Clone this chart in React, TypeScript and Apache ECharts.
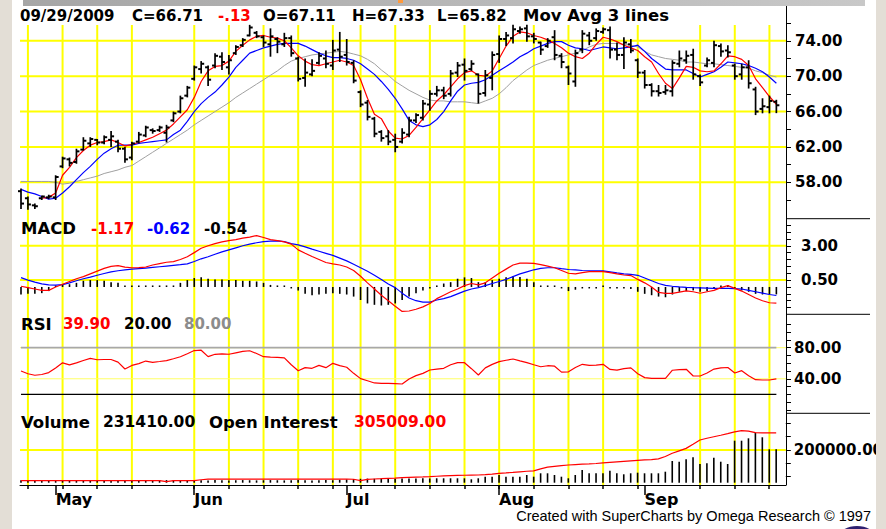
import React, { useEffect, useRef } from "react";
import * as echarts from "echarts";

// ---------- data (bar index 0 = 2009-04-24 ... 109 = 2009-09-29) ----------
const weekIdx = [1, 6, 11, 16, 25, 30, 35, 40, 45, 49, 54, 59, 64, 69, 74, 79, 84, 89, 98, 103, 108];
const monthIdx = [5, 25, 47, 69, 90];
const monthNames = ["May", "Jun", "Jul", "Aug", "Sep"];

const open = [57.0,56.2,55.4,56.2,56.3,56.3,59.8,60.6,60.3,61.7, 62.4,62.8,62.5,62.8,62.6,61.8,60.8,62.6,63.3,63.9, 63.9,63.6,65.0,66.0,67.8,69.7,70.8,71.0,71.2,72.2, 71.0,72.6,73.5,74.6,74.9,74.4,73.6,74.2,73.6,74.3, 72.0,69.8,70.2,71.5,72.0,71.2,73.0,72.4,71.5,68.2, 67.0,65.2,63.7,63.2,62.8,62.6,63.4,65.0,65.3,66.8, 68.0,68.4,68.0,70.4,71.3,70.8,70.2,68.1,69.8,72.5, 74.2,74.3,75.1,75.4,74.5,73.8,73.4,74.4,72.3,71.0, 69.4,73.0,74.6,74.3,75.0,75.2,73.0,72.4,73.6,71.8, 70.4,69.0,68.3,68.2,68.3,71.4,71.8,72.4,70.0,71.2, 71.5,73.4,72.9,71.2,70.2,71.0,68.5,66.3,66.5,67.11];
const high = [57.3,56.4,55.6,56.5,56.6,58.8,60.9,60.8,61.8,63.1, 63.1,62.9,63.3,63.8,62.8,62.0,62.6,63.7,64.4,64.1, 64.4,64.5,66.0,67.8,68.9,71.2,71.7,71.2,72.6,72.7, 72.4,73.5,74.3,75.8,75.1,74.6,75.4,74.4,74.9,74.6, 72.2,72.0,71.9,72.7,72.9,74.1,75.0,74.2,71.8,68.4, 67.3,65.4,63.9,63.9,63.5,64.1,65.4,65.8,67.3,68.4, 68.9,68.8,70.7,71.6,72.0,71.8,70.3,70.7,72.8,74.6, 75.0,75.8,75.6,75.8,74.9,73.9,74.3,75.2,72.6,71.2, 73.0,75.2,75.0,75.4,75.5,75.6,73.8,74.4,74.2,72.0, 70.7,69.2,69.0,69.0,71.8,72.9,72.9,73.1,70.2,72.1, 74.0,73.7,73.5,71.4,71.4,71.8,68.8,67.5,67.8,67.33];
const low = [55.0,54.9,55.0,56.0,56.1,56.0,59.6,59.8,60.1,61.6, 62.0,62.2,62.3,62.0,61.4,60.2,60.5,62.4,63.1,63.5, 63.7,62.5,64.8,65.8,67.6,69.5,70.3,68.9,70.9,70.7, 70.2,72.4,73.3,74.5,74.3,73.3,72.2,72.6,73.3,72.2, 69.4,68.8,70.0,71.3,70.9,70.7,71.6,71.2,69.2,66.5, 65.0,63.1,62.6,62.2,61.4,62.4,63.1,64.7,65.0,66.1, 67.7,67.4,67.7,69.9,69.5,70.6,66.9,67.7,68.4,71.5, 73.4,73.7,74.8,73.9,73.7,72.4,73.2,71.8,70.9,69.0, 68.8,72.6,73.5,74.0,74.8,72.0,71.8,70.8,72.6,69.8, 68.6,67.7,67.7,67.9,67.7,71.0,71.4,69.6,68.9,71.0, 71.0,72.2,72.1,69.6,69.6,68.6,65.6,65.8,65.8,65.82];
const close = [55.6,55.5,55.3,56.4,56.4,58.6,60.7,60.2,61.5,62.7, 62.9,62.5,63.1,63.2,61.8,60.6,62.4,63.4,64.2,63.8, 64.2,64.2,65.8,67.5,68.7,71.0,71.4,69.6,72.3,71.6, 71.8,73.3,74.1,75.5,74.5,73.8,74.5,73.9,74.3,72.6, 69.7,70.4,70.6,72.3,71.4,72.9,72.2,71.6,69.5,66.8, 65.4,63.5,63.0,62.6,62.0,63.6,65.0,65.6,66.9,68.0, 68.4,67.8,70.3,71.2,70.6,71.4,68.0,70.1,72.4,74.2, 74.6,75.3,75.3,74.5,74.2,73.0,74.0,72.4,71.6,70.3, 72.6,74.8,74.0,75.1,75.3,73.0,72.4,73.8,72.9,70.4, 69.0,68.3,68.1,68.4,71.5,72.0,72.3,70.2,69.3,71.8, 73.5,72.8,72.7,70.0,71.0,69.2,66.0,66.6,67.2,66.71];

const maFast = [null,null,null,56.2,56.3,56.8,58.8,59.7,60.8,61.6, 62.2,62.5,62.6,62.8,62.5,62.1,62.3,62.5,62.8,63.1, 63.5,63.9,64.6,65.4,66.2,67.6,69.4,70.6,71.1,71.2, 71.7,72.8,73.5,74.1,74.5,74.6,74.4,74.3,74.0,73.2, 72.3,71.7,71.3,71.2,71.4,71.6,71.8,71.6,71.2,69.6, 67.5,65.7,65.2,63.8,63.0,62.9,63.3,64.2,65.2,66.2, 67.2,67.9,68.8,69.7,70.4,70.6,70.1,70.0,70.6,72.0, 73.4,74.5,75.0,74.9,74.6,74.4,74.1,73.7,73.2,72.6, 72.2,72.0,72.6,73.6,74.4,74.2,73.9,73.5,73.2,72.9, 72.2,71.6,70.3,69.2,68.6,69.8,71.1,71.0,70.6,70.5, 70.6,71.4,72.3,72.2,71.9,71.2,69.7,68.7,67.7,66.8];
const maMid = [57.2,56.9,56.7,56.4,56.1,56.2,56.8,57.5,58.3,59.1, 59.8,60.6,61.3,61.8,62.2,62.2,62.2,62.4,62.5,62.6, 62.7,62.8,63.4,63.9,64.9,66.0,66.9,67.6,68.2,69.0, 69.9,71.0,71.8,72.6,72.9,73.2,73.4,73.6,73.7,73.7, 73.7,73.4,73.0,72.6,72.3,72.1,72.1,72.0,71.8,71.4, 70.8,70.2,69.4,68.5,67.5,66.3,65.0,64.5,64.3,64.5, 65.1,66.0,67.2,68.3,69.0,69.2,69.3,69.6,70.1,70.6, 71.1,71.6,72.2,72.6,73.1,73.4,73.7,73.9,73.9,73.5, 73.2,73.1,72.9,73.1,73.3,73.2,73.1,73.2,73.3,73.5, 72.8,72.0,71.4,70.8,70.7,70.7,70.7,70.3,69.9,70.2, 70.5,71.0,71.6,71.5,71.4,71.2,70.9,70.5,69.9,69.2];
const maSlow = [58.1,58.1,58.1,58.1,58.1,58.0,57.8,57.9,58.1,58.3, 58.5,58.7,59.0,59.2,59.4,59.7,59.9,60.4,60.9,61.4, 61.9,62.4,62.9,63.4,63.9,64.5,65.0,65.5,66.0,66.5, 67.0,67.6,68.1,68.6,69.1,69.6,70.1,70.6,71.2,71.7, 72.0,72.2,72.4,72.5,72.6,72.7,72.8,72.7,72.5,72.3, 71.9,71.4,70.7,70.1,69.4,68.9,68.4,68.0,67.6,67.3, 67.2,67.2,67.1,67.1,67.1,67.0,66.9,67.2,67.5,68.0, 68.7,69.5,70.1,70.7,71.2,71.5,71.8,72.0,72.2,72.4, 72.6,72.9,73.3,73.6,73.7,73.7,73.7,73.6,73.5,73.3, 72.8,72.4,72.2,72.0,71.9,71.8,71.6,71.6,71.5,71.4, 71.4,71.3,71.2,71.1,71.0,70.9,70.6,70.4,70.1,69.9];

const macd = [0.05,-0.05,-0.15,-0.25,-0.25,0.0,0.2,0.4,0.6,0.75, 0.95,1.15,1.35,1.5,1.55,1.45,1.4,1.41,1.45,1.6, 1.7,1.8,1.85,2.0,2.2,2.5,2.82,3.0,3.15,3.28, 3.38,3.45,3.55,3.63,3.74,3.6,3.45,3.38,3.28,3.12, 2.7,2.45,2.22,2.0,1.78,1.68,1.6,1.45,1.2,0.78, 0.3,-0.15,-0.6,-1.0,-1.4,-1.78,-1.75,-1.62,-1.45,-1.2, -0.85,-0.6,-0.35,-0.15,0.1,0.25,0.15,0.3,0.65,1.0, 1.3,1.6,1.73,1.73,1.72,1.63,1.52,1.4,1.2,1.0, 0.95,1.05,1.11,1.11,1.11,1.05,0.95,0.87,0.83,0.55, 0.3,0.0,-0.4,-0.46,-0.46,-0.38,-0.29,-0.35,-0.46,-0.35, -0.25,-0.05,0.1,-0.1,-0.3,-0.55,-0.8,-1.0,-1.15,-1.17];
const signal = [0.68,0.5,0.35,0.22,0.15,0.13,0.17,0.3,0.45,0.6, 0.72,0.85,0.98,1.1,1.18,1.24,1.3,1.34,1.37,1.42, 1.47,1.52,1.57,1.62,1.68,1.85,2.05,2.2,2.38,2.55, 2.7,2.85,3.0,3.12,3.22,3.3,3.34,3.35,3.3,3.15, 3.06,2.92,2.75,2.6,2.45,2.3,2.1,1.9,1.65,1.4, 1.15,0.85,0.55,0.22,-0.05,-0.45,-0.8,-1.0,-1.1,-1.1, -0.95,-0.85,-0.7,-0.5,-0.3,-0.15,-0.05,0.1,0.25,0.4, 0.55,0.75,0.95,1.1,1.25,1.35,1.4,1.4,1.33,1.27, 1.24,1.2,1.18,1.17,1.17,1.1,1.02,0.95,0.92,0.85, 0.65,0.45,0.25,0.12,0.05,0.0,-0.03,-0.05,-0.06,-0.08, -0.1,-0.1,-0.1,-0.12,-0.15,-0.25,-0.35,-0.45,-0.55,-0.62];
const hist = [-0.55,-0.5,-0.5,-0.45,-0.3,0.05,0.15,0.2,0.3,0.45, 0.5,0.5,0.45,0.35,0.3,0.1,0.05,0.05,0.05,0.05, 0.05,0.05,0.1,0.3,0.5,0.65,0.7,0.6,0.55,0.55, 0.5,0.5,0.45,0.45,0.4,0.3,0.15,0.05,0.02,-0.1, -0.25,-0.5,-0.6,-0.55,-0.5,-0.45,-0.5,-0.55,-0.7,-0.95, -1.2,-1.3,-1.35,-1.3,-1.2,-0.95,-0.7,-0.45,-0.25,-0.1, 0.05,0.25,0.35,0.6,0.7,0.65,0.35,0.35,0.5,0.6, 0.7,0.78,0.72,0.6,0.35,0.05,0.04,0.04,-0.05,-0.3, -0.2,-0.05,-0.05,-0.05,0.0,-0.05,-0.05,-0.05,-0.15,-0.35, -0.5,-0.6,-0.7,-0.75,-0.55,-0.35,-0.3,-0.25,-0.35,-0.3, -0.15,0.05,0.15,-0.15,-0.25,-0.35,-0.5,-0.55,-0.55,-0.54];

const rsi = [50.0,46.5,44.5,45.5,48.0,54.0,60.5,57.8,60.5,63.5, 66.2,64.5,64.8,64.8,61.5,52.6,57.2,59.5,62.8,61.2, 62.2,63.3,65.8,68.4,72.3,76.3,76.8,68.5,71.5,72.0, 71.6,73.4,75.2,76.1,72.5,68.4,67.8,67.6,67.0,58.0, 50.4,54.3,53.5,57.2,54.3,59.9,57.0,54.8,47.0,40.2, 37.4,34.6,34.2,34.2,33.8,33.3,39.8,44.0,47.0,51.3, 52.5,53.5,58.0,60.7,60.7,53.0,44.9,54.0,58.5,62.0, 63.8,65.5,63.0,60.7,58.0,55.5,56.8,56.2,48.5,49.0, 54.5,58.6,57.3,57.5,58.6,52.0,51.2,53.0,54.0,46.5, 41.5,40.6,40.6,40.6,51.0,51.8,52.2,43.6,43.6,47.5, 52.5,54.0,54.5,47.5,50.4,44.0,38.8,38.4,38.4,39.9];
const rsiUpper = 80;
const rsiLower = 20;

const volume = [15000,13000,14000,15000,14000,16000,15000,14000,15000,16000, 15000,14000,15000,16000,15000,14000,15000,16000,15000,14000, 15000,16000,15000,14000,15000,16000,15000,14000,16000,15000, 14000,15000,16000,15000,14000,15000,16000,15000,14000,15000, 16000,15000,14000,15000,16000,15000,18000,20000,22000,24000, 25000,24000,26000,25000,24000,26000,25000,26000,27000,26000, 27000,26900,26900,26900,26900,20800,26900,36700,36700,47100, 36700,36700,36700,47100,36700,57500,57500,47100,36700,26900, 47100,77700,57500,57500,57500,73400,57500,51400,57500,61200, 57500,57500,57500,67300,132700,128400,143100,155300,114400,118600, 152900,128400,114400,256900,256900,271500,305800,277700,204300,204300];
const openInterest = [12200,12200,12200,12200,12200,12200,12200,12200,12200,12200, 12200,12200,12200,12200,12200,12200,12200,12200,12200,12200, 12200,6100,12200,12200,12200,12200,18000,22000,22000,22000, 22000,22000,22000,22000,22000,22000,22000,22000,22000,22000, 22000,22000,22000,22000,22000,22000,22000,22000,21000,12200, 20800,22600,24500,26900,28500,30500,32500,34500,35500,36700, 39500,42000,43500,44500,45500,46500,47100,49000,53000,57500, 60000,63000,66500,70000,72000,85000,95000,100000,105000,108300, 111000,113000,115000,117500,121000,124000,127000,130000,133000,136000, 139000,141000,146000,160000,180000,195000,210000,235000,261000,272000, 281000,290000,300000,311000,318000,315000,306000,305009,305009,305009];

const priceTicks = [56, 58, 60, 62, 64, 66, 68, 70, 72, 74, 76];
const priceLabels = [58, 62, 66, 70, 74];
const macdTicks = [-1.5, -1, -0.5, 0, 0.5, 1, 1.5, 2, 2.5, 3, 3.5, 4, 4.5];
const macdLabels = [0.5, 3];
const rsiTicks = [0, 10, 20, 30, 40, 50, 60, 70, 80, 90, 100, 110];
const rsiLabels = [40, 80];
const volTicks = [37920, 118960, 200000, 281040, 362080];
const volLabels = [200000];

const priceHeader = [["09/29/2009", "#000"], ["C=66.71", "#000"], ["-.13", "#ff0000"], ["O=67.11", "#000"], ["H=67.33", "#000"], ["L=65.82", "#000"], ["Mov Avg 3 lines", "#000"]];
const macdHeader = [["MACD", "#000"], ["-1.17", "#ff0000"], ["-0.62", "#0000ff"], ["-0.54", "#000"]];
const rsiHeader = [["RSI", "#000"], ["39.90", "#ff0000"], ["20.00", "#000"], ["80.00", "#8c8c8c"]];
const volHeader = [["Volume", "#000"], ["231410.00", "#000"], ["Open Interest", "#000"], ["305009.00", "#ff0000"]];

// ---------- layout ----------
const FONT = '"DejaVu Sans", Verdana, sans-serif';
const X_MIN = -0.144;
const X_MAX = 110.39;
const YELLOW = "#ffff00";

function headerTexts(items: string[][], xs: number[], y: number, sizes: number[]) {
  return items.map((it, k) => ({
    type: "text",
    z: 100,
    style: {
      text: it[0],
      x: xs[k],
      y,
      fill: it[1],
      font: `bold ${sizes[k]}px ${FONT}`,
      align: "left",
      verticalAlign: "middle",
      textAlign: "left",
      textVerticalAlign: "middle",
    },
  }));
}

export default function App() {
  const ref = useRef<HTMLDivElement>(null);
  useEffect(() => {
    const chart = echarts.init(ref.current as HTMLDivElement, null, { renderer: "svg" });

    const hLines = (color: string, width: number) => (params: any, api: any) => {
      const cs = params.coordSys;
      const y = api.coord([0, api.value(1)])[1];
      return { type: "line", shape: { x1: cs.x, y1: y, x2: cs.x + cs.width, y2: y }, style: { stroke: color, lineWidth: width } };
    };
    const vLines = (params: any, api: any) => {
      const cs = params.coordSys;
      const x = api.coord([api.value(0), 0])[0];
      return { type: "line", shape: { x1: x, y1: cs.y, x2: x, y2: cs.y + cs.height }, style: { stroke: YELLOW, lineWidth: 2 } };
    };
    const stick = (minLen: number, width: number) => (params: any, api: any) => {
      const x = api.value(0);
      const p0 = api.coord([x, 0]);
      const p1 = api.coord([x, api.value(1)]);
      let y2 = p1[1];
      if (Math.abs(y2 - p0[1]) < minLen) y2 = p0[1] + (api.value(1) < 0 ? minLen : -minLen);
      return { type: "line", shape: { x1: p0[0], y1: p0[1], x2: p0[0], y2 }, style: { stroke: "#000", lineWidth: width } };
    };
    const ohlcItem = (params: any, api: any) => {
      const x = api.value(0);
      const o = api.coord([x, api.value(1)]);
      const h = api.coord([x, api.value(2)]);
      const l = api.coord([x, api.value(3)]);
      const c = api.coord([x, api.value(4)]);
      return {
        type: "group",
        children: [
          { type: "line", shape: { x1: h[0], y1: h[1], x2: l[0], y2: l[1] }, style: { stroke: "#000", lineWidth: 1.7 } },
          { type: "line", shape: { x1: o[0] - 3, y1: o[1], x2: o[0], y2: o[1] }, style: { stroke: "#000", lineWidth: 2 } },
          { type: "line", shape: { x1: c[0], y1: c[1], x2: c[0] + 3, y2: c[1] }, style: { stroke: "#000", lineWidth: 2 } },
        ],
      };
    };

    const xHidden = (g: number) => ({ type: "value", gridIndex: g, min: X_MIN, max: X_MAX, show: false });
    const yPanel = (g: number, min: number, max: number, ticks: number[], labels: number[], margin: number) => ({
      type: "value",
      gridIndex: g,
      position: "right",
      min,
      max,
      axisLine: { show: true, onZero: false, lineStyle: { color: "#000", width: 1 } },
      axisTick: { show: true, customValues: ticks, length: 5, lineStyle: { color: "#000", width: 1 } },
      axisLabel: {
        show: true,
        customValues: labels,
        formatter: (v: number) => v.toFixed(2),
        margin,
        color: "#000",
        fontFamily: FONT,
        fontWeight: "bold",
        fontSize: 15,
      },
      splitLine: { show: false },
    });
    const pts = (arr: (number | null)[]) => arr.map((v, i) => [i, v]);
    const lastIdx = close.length - 1;

    const option: any = {
      animation: false,
      backgroundColor: "#ffffff",
      grid: [
        { left: 20, right: 100, top: 6, height: 212.7 },
        { left: 20, right: 100, top: 218.7, height: 95.6 },
        { left: 20, right: 100, top: 314.3, height: 99 },
        { left: 20, right: 100, top: 413.3, height: 71.7 },
        { left: 20, right: 100, top: 25, height: 460 },
      ],
      xAxis: [
        xHidden(0),
        xHidden(1),
        xHidden(2),
        {
          type: "value", gridIndex: 3, min: X_MIN, max: X_MAX, position: "bottom",
          axisLine: { show: true, onZero: false, lineStyle: { color: "#000", width: 1 } },
          axisTick: { show: true, customValues: weekIdx, length: 4, lineStyle: { color: "#000", width: 1.5 } },
          axisLabel: { show: false },
          splitLine: { show: false },
        },
        xHidden(4),
        {
          type: "value", gridIndex: 3, min: X_MIN, max: X_MAX, position: "bottom",
          axisLine: { show: false, onZero: false },
          axisTick: { show: true, customValues: monthIdx, length: 10, lineStyle: { color: "#000", width: 1.5 } },
          axisLabel: {
            show: true, customValues: monthIdx,
            formatter: (v: number) => monthNames[monthIdx.indexOf(Math.round(v))] || "",
            align: "left", margin: 6, color: "#000", fontFamily: FONT, fontWeight: "bold", fontSize: 16,
          },
          splitLine: { show: false },
        },
      ],
      yAxis: [
        yPanel(0, 53.89, 77.93, priceTicks, priceLabels, 9),
        yPanel(1, -1.99, 4.97, macdTicks, macdLabels, 15),
        yPanel(2, -4.45, 123.0, rsiTicks, rsiLabels, 8),
        yPanel(3, -14070, 424450, volTicks, volLabels, 8),
        { type: "value", gridIndex: 4, min: 0, max: 1, show: false },
      ],
      series: [
        // background grid lines
        { type: "custom", silent: true, z: 1, xAxisIndex: 4, yAxisIndex: 4, data: weekIdx.map((i) => [i, 0]), renderItem: vLines },
        { type: "custom", silent: true, z: 1, xAxisIndex: 0, yAxisIndex: 0, data: priceLabels.map((v) => [0, v]), renderItem: hLines(YELLOW, 2) },
        { type: "custom", silent: true, z: 1, xAxisIndex: 1, yAxisIndex: 1, data: macdLabels.map((v) => [0, v]), renderItem: hLines(YELLOW, 2) },
        { type: "custom", silent: true, z: 1, xAxisIndex: 2, yAxisIndex: 2, data: rsiLabels.map((v) => [0, v]), renderItem: hLines("#ffff66", 1) },
        { type: "custom", silent: true, z: 1, xAxisIndex: 3, yAxisIndex: 3, data: volLabels.map((v) => [0, v]), renderItem: hLines(YELLOW, 2) },
        // price
        { type: "line", xAxisIndex: 0, yAxisIndex: 0, z: 3, data: pts(maSlow), symbol: "none", lineStyle: { color: "#a0a0a0", width: 1 } },
        { type: "line", xAxisIndex: 0, yAxisIndex: 0, z: 3, data: pts(maMid), symbol: "none", lineStyle: { color: "#0000ff", width: 1.2 } },
        { type: "line", xAxisIndex: 0, yAxisIndex: 0, z: 3, data: pts(maFast), symbol: "none", lineStyle: { color: "#ff0000", width: 1.2 } },
        {
          type: "custom", xAxisIndex: 0, yAxisIndex: 0, z: 5,
          data: open.map((o, i) => [i, o, high[i], low[i], close[i]]),
          encode: { x: 0, y: [1, 2, 3, 4] },
          renderItem: ohlcItem,
        },
        // MACD
        { type: "custom", xAxisIndex: 1, yAxisIndex: 1, z: 3, data: pts(hist), renderItem: stick(1.5, 1.6) },
        { type: "line", xAxisIndex: 1, yAxisIndex: 1, z: 4, data: pts(signal), symbol: "none", lineStyle: { color: "#0000ff", width: 1.2 } },
        { type: "line", xAxisIndex: 1, yAxisIndex: 1, z: 4, data: pts(macd), symbol: "none", lineStyle: { color: "#ff0000", width: 1.2 } },
        // RSI
        { type: "line", xAxisIndex: 2, yAxisIndex: 2, z: 3, data: [[0, rsiUpper], [lastIdx, rsiUpper]], symbol: "none", lineStyle: { color: "#a8a8a8", width: 1.8 } },
        { type: "line", xAxisIndex: 2, yAxisIndex: 2, z: 3, data: [[0, rsiLower], [lastIdx, rsiLower]], symbol: "none", lineStyle: { color: "#000", width: 1.2 } },
        { type: "line", xAxisIndex: 2, yAxisIndex: 2, z: 4, data: pts(rsi), symbol: "none", lineStyle: { color: "#ff0000", width: 1.2 } },
        // Volume / OI
        { type: "custom", xAxisIndex: 3, yAxisIndex: 3, z: 3, data: pts(volume), renderItem: stick(1, 1.6) },
        { type: "line", xAxisIndex: 3, yAxisIndex: 3, z: 4, data: pts(openInterest), symbol: "none", lineStyle: { color: "#ff0000", width: 1.2 } },
      ],
      graphic: [
        { type: "rect", z: 100, shape: { x: 0, y: 0, width: 12, height: 529 }, style: { fill: "#e3ded6" } },
        { type: "rect", z: 100, shape: { x: 876, y: 0, width: 10, height: 529 }, style: { fill: "#e3ded6" } },
        {
          type: "rect", z: 100, shape: { x: 23, y: 0, width: 842, height: 6 },
          style: { fill: new echarts.graphic.LinearGradient(0, 0, 1, 0, [{ offset: 0, color: "#a6a6a6" }, { offset: 1, color: "#c8c8c8" }]) },
        },
        { type: "rect", z: 101, shape: { x: 398, y: 0, width: 5, height: 3 }, style: { fill: "#ff9a3c" } },
        { type: "line", z: 100, shape: { x1: 786, y1: 218.7, x2: 870, y2: 218.7 }, style: { stroke: "#000", lineWidth: 1 } },
        { type: "line", z: 100, shape: { x1: 786, y1: 314.3, x2: 870, y2: 314.3 }, style: { stroke: "#000", lineWidth: 1 } },
        { type: "line", z: 100, shape: { x1: 786, y1: 413.3, x2: 870, y2: 413.3 }, style: { stroke: "#000", lineWidth: 1 } },
        ...headerTexts(priceHeader, [20, 132, 218, 263, 352, 437, 523], 15.5, [15, 15, 15, 15, 15, 15, 16.5]),
        ...headerTexts(macdHeader, [21, 91, 147, 204], 228.5, [16.5, 15, 15, 15]),
        ...headerTexts(rsiHeader, [21, 63, 124, 184], 324, [16.5, 15, 15, 15]),
        ...headerTexts(volHeader, [21, 103, 209, 354], 422, [16.5, 15.5, 16.5, 15.5]),
        { type: "ellipse", z: 99, shape: { cx: 857, cy: 537, rx: 18, ry: 11 }, style: { fill: "#2e2070" } },
        {
          type: "text", z: 101,
          style: {
            text: "Created with SuperCharts by Omega Research © 1997",
            x: 871, y: 516, fill: "#000", font: '14.5px "Liberation Sans", Arial, sans-serif',
            align: "right", verticalAlign: "middle", textAlign: "right", textVerticalAlign: "middle",
          },
        },
      ],
    };

    chart.setOption(option);
    return () => chart.dispose();
  }, []);

  return <div ref={ref} style={{ position: "fixed", left: 0, top: 0, width: 886, height: 529 }} />;
}
